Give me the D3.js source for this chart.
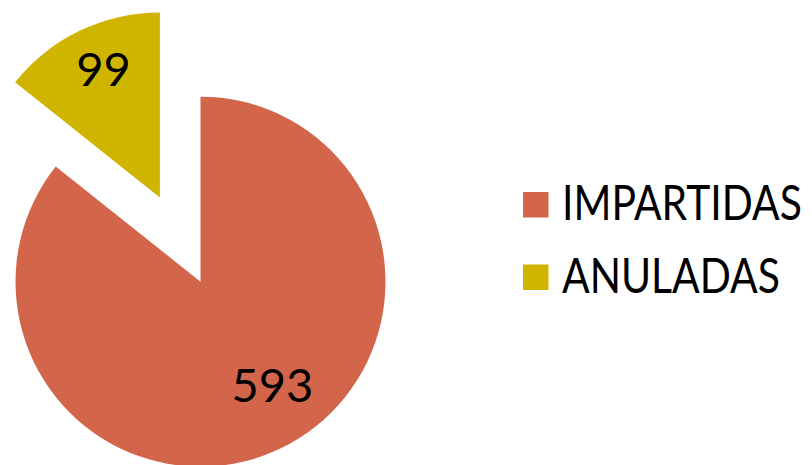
<!DOCTYPE html>
<meta charset="utf-8">
<head>
<style>
body { margin: 0; background: #fff; }
text { font-family: "Lato", "Open Sans", sans-serif; fill: #000; }
</style>
</head>
<script src="https://d3js.org/d3.v7.min.js"></script>
<div id="chart"></div>
<script>

// data
var categories = ["IMPARTIDAS", "ANULADAS"];
var values = [593, 99];
var colors = ["#D2654A", "#CFB500"];

var width = 812, height = 465;
var cx = 200.5, cy = 281.7, radius = 185;
var explode = [0, 93.5];          // how far each slice is pulled out
var labelShift = [-9, 2];         // degrees, nudges the number inside the slice
var labelDist = [126, 140];

var svg = d3.select("#chart")
  .append("svg")
    .attr("width", width)
    .attr("height", height);

var pie = d3.pie().sort(null).value(function(d) { return d; });
var arcs = pie(values);
var arc = d3.arc().innerRadius(0).outerRadius(radius);

var g = svg.append("g")
  .attr("transform", "translate(" + cx + "," + cy + ")");

function midAngle(d) { return (d.startAngle + d.endAngle) / 2; }

var slice = g.selectAll(".slice")
  .data(arcs)
  .enter()
  .append("g")
    .attr("class", "slice")
    .attr("transform", function(d, i) {
      var a = midAngle(d);
      return "translate(" + (Math.sin(a) * explode[i]) + "," + (-Math.cos(a) * explode[i]) + ")";
    });

slice.append("path")
  .attr("d", arc)
  .attr("fill", function(d, i) { return colors[i]; });

slice.append("text")
  .attr("x", function(d, i) { return Math.sin(midAngle(d) + labelShift[i] * Math.PI / 180) * labelDist[i]; })
  .attr("y", function(d, i) { return -Math.cos(midAngle(d) + labelShift[i] * Math.PI / 180) * labelDist[i]; })
  .attr("dy", "0.36em")
  .attr("text-anchor", "middle")
  .style("font-size", "47px")
  .text(function(d) { return d.data; });

// legend
var legend = svg.selectAll(".legend")
  .data(categories)
  .enter()
  .append("g")
    .attr("class", "legend")
    .attr("transform", function(d, i) { return "translate(523," + (192 + i * 72.5) + ")"; });

legend.append("rect")
  .attr("width", 25.5)
  .attr("height", 25.5)
  .attr("fill", function(d, i) { return colors[i]; });

// the original face is narrower than Lato, so squeeze the label sideways
var labelW = [240, 218];
legend.append("text")
  .style("font-size", "48px")
  .text(function(d) { return d; })
  .attr("transform", function(d, i) {
    var w = this.getComputedTextLength();
    return "translate(39,28) scale(" + (labelW[i] / w) + ",1)";
  });

</script>
